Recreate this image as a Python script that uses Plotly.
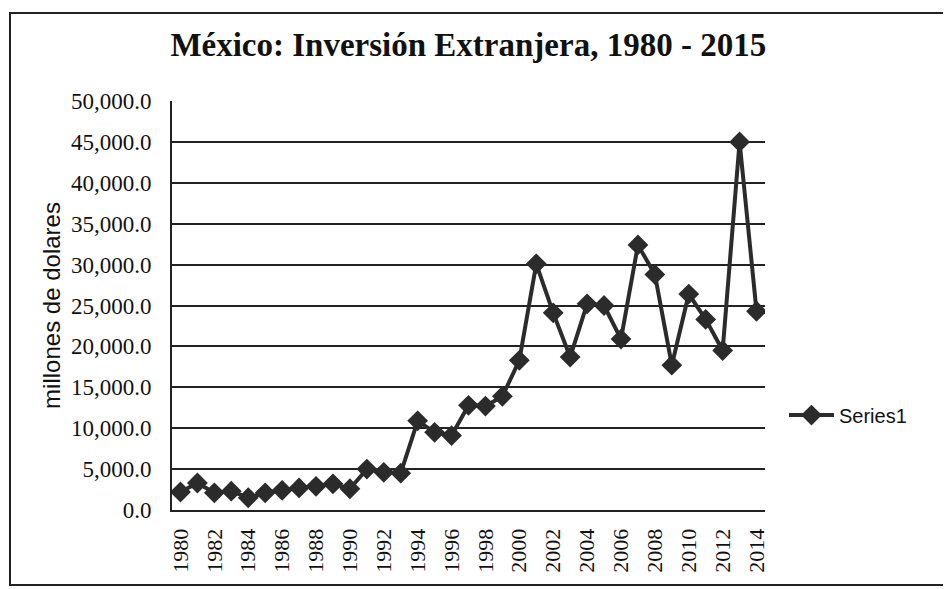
import plotly.graph_objects as go

years = list(range(1980, 2015))
inversion = [2200, 3300, 2100, 2300, 1500, 2100, 2400, 2700, 2900, 3200,
             2600, 5000, 4600, 4500, 10900, 9500, 9100, 12800, 12700, 13900,
             18300, 30100, 24100, 18700, 25200, 25000, 20900, 32400, 28800, 17700,
             26400, 23300, 19500, 45000, 24300]
series_name = "Series1"
title_text = "México: Inversión Extranjera, 1980 - 2015"
y_title = "millones de dolares"
x_tick_vals = list(range(1980, 2015, 2))
y_tick_vals = list(range(0, 50001, 5000))

fig = go.Figure()
fig.add_trace(go.Scatter(
    x=years, y=inversion, name=series_name, mode="lines+markers",
    line=dict(color="#2b2b2b", width=4),
    marker=dict(symbol="diamond", size=16, color="#2b2b2b"),
))

fig.update_layout(
    width=951, height=589,
    paper_bgcolor="white", plot_bgcolor="white",
    margin=dict(l=164, r=194, t=93, b=87, autoexpand=False),
    title=dict(text="<b>" + title_text + "</b>", x=0.484, xanchor="center", y=0.938, yanchor="middle",
               font=dict(family="Liberation Serif", size=33, color="#111111")),
    showlegend=True,
    legend=dict(x=1.032, y=0.232, xanchor="left", yanchor="middle", itemwidth=45,
                font=dict(family="Liberation Sans", size=20, color="#111111"),
                bgcolor="rgba(0,0,0,0)"),
    shapes=[dict(type="rect", xref="paper", yref="paper",
                 x0=-0.2732, x1=1.6, y0=-0.1834, y1=1.215,
                 line=dict(color="#222222", width=2))],
)
fig.update_xaxes(
    range=[1979.5, 2014.5], tickmode="array", tickvals=x_tick_vals,
    ticktext=[str(v) for v in x_tick_vals], tickangle=-90,
    tickfont=dict(family="Liberation Serif", size=22, color="#111111"),
    showgrid=False, zeroline=False, showline=True, linecolor="#222222", linewidth=2,
    ticks="", mirror=False, automargin=False, ticklabelstandoff=8,
)
fig.update_yaxes(
    range=[0, 50000], tickmode="array", tickvals=y_tick_vals,
    tickformat=",.1f",
    tickfont=dict(family="Liberation Serif", size=23, color="#111111"),
    showgrid=True, gridcolor="#222222", gridwidth=1.5,
    zeroline=False, showline=True, linecolor="#222222", linewidth=2,
    ticks="", ticklabelstandoff=14, automargin=False,
    title=dict(text=y_title, font=dict(family="Liberation Sans", size=24, color="#111111"), standoff=4),
)

fig.write_html("out.html")
